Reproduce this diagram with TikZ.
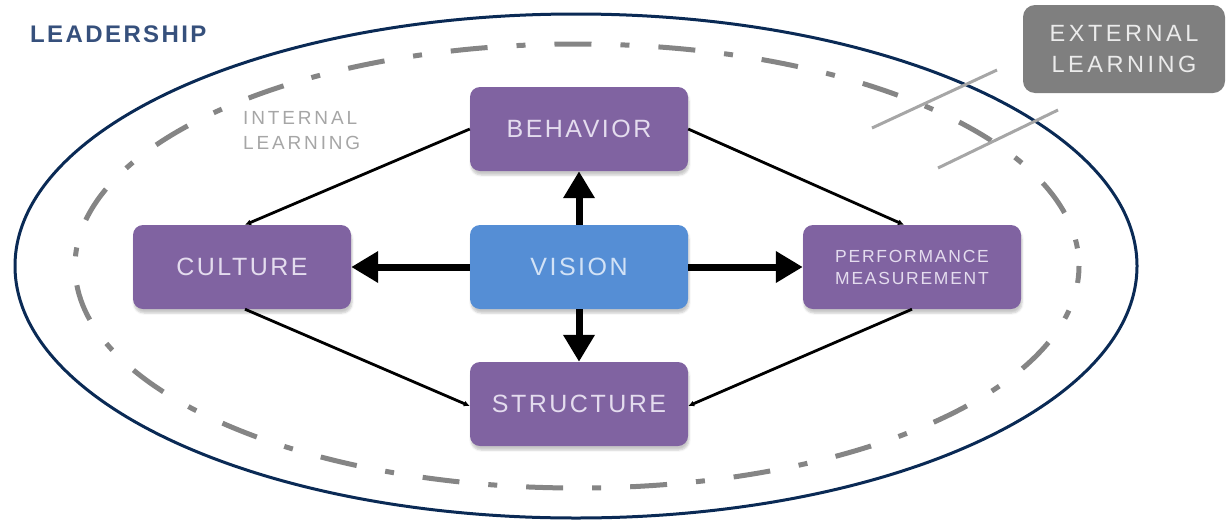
\documentclass[tikz,border=0pt]{standalone}
\usepackage{fontspec}
\setmainfont{Liberation Sans}
\newfontfamily\boxfont[LetterSpace=10]{Liberation Sans}
\newfontfamily\labfont[LetterSpace=15]{Liberation Sans}
\newfontfamily\leadfont[LetterSpace=10]{Liberation Sans}
\usetikzlibrary{arrows.meta,shadows.blur}
\definecolor{navy}{HTML}{0A2A55}
\definecolor{leadblue}{HTML}{36507C}
\definecolor{boxpurple}{HTML}{8063A1}
\definecolor{boxblue}{HTML}{558ED5}
\definecolor{purpletext}{HTML}{E4DCEE}
\definecolor{bluetext}{HTML}{D2E2F6}
\definecolor{dashgray}{HTML}{858585}
\definecolor{extgray}{HTML}{7F7F7F}
\tikzset{
  box/.style={rectangle, rounded corners=10pt, minimum width=218pt, minimum height=84pt,
    inner sep=0pt, align=center,
    blur shadow={shadow xshift=1pt, shadow yshift=-4pt, shadow blur steps=5, shadow opacity=22}},
  purplebox/.style={box, fill=boxpurple, text=purpletext, font=\boxfont\fontsize{25}{30}\selectfont},
  visionbox/.style={box, fill=boxblue, text=bluetext, font=\boxfont\fontsize{25}{30}\selectfont},
  bigarrow/.style={line width=7pt, -{Triangle[length=27pt,width=30pt]}},
  thinarrow/.style={line width=2.8pt, -{Latex[length=6pt,width=6pt]}},
  crossline/.style={line width=3pt, color=black!35},
}
\begin{document}
\begin{tikzpicture}[x=1pt, y=-1pt]
  \useasboundingbox (0,0) rectangle (1226,520);

  % organisation boundary and internal learning loop
  \draw[navy, line width=3pt] (576,266) ellipse [x radius=561, y radius=252];
  \draw[dashgray, line width=5pt, dash pattern=on 37pt off 29pt on 9pt off 29pt, dash phase=20pt]
    (577,266) ellipse [x radius=502, y radius=222];

  % labels
  \node[font=\leadfont\bfseries\fontsize{24}{28}\selectfont, text=leadblue, anchor=west, inner sep=0pt]
    (lead) at (30,34) {LEADERSHIP};
  \node[font=\labfont\fontsize{19}{25}\selectfont, text=black!35, align=left, anchor=west, inner sep=0pt]
    (intl) at (243,131) {INTERNAL\\LEARNING};

  % external learning crossing the boundary
  \coordinate (c1a) at (872,128);
  \coordinate (c1b) at (997,70);
  \coordinate (c2a) at (938,168);
  \coordinate (c2b) at (1058,110);
  \draw[crossline] (c1a) -- (c1b);
  \draw[crossline] (c2a) -- (c2b);
  \node[rectangle, rounded corners=12pt, fill=extgray, minimum width=202pt, minimum height=88pt,
    text=black!8, align=center, font=\labfont\fontsize{23.5}{31}\selectfont, inner sep=0pt]
    (ext) at (1124,49) {EXTERNAL\\LEARNING};

  % elements
  \node[purplebox] (beh) at (579,129) {BEHAVIOR};
  \node[visionbox] (vis) at (579,267) {VISION};
  \node[purplebox] (cul) at (242,267) {CULTURE};
  \node[purplebox, font=\boxfont\fontsize{17.5}{22}\selectfont] (perf) at (912,267) {PERFORMANCE\\MEASUREMENT};
  \node[purplebox] (str) at (579,404) {STRUCTURE};

  % vision drives every element
  \draw[bigarrow] (vis.west) -- (cul.east);
  \draw[bigarrow] (vis.east) -- (perf.west);
  \draw[bigarrow] (vis.north) -- (beh.south);
  \draw[bigarrow] (vis.south) -- (str.north);

  % loop between the elements
  \draw[thinarrow] (beh.west) -- ([xshift=3pt]cul.north);
  \draw[thinarrow] (beh.east) -- ([xshift=-8pt]perf.north);
  \draw[thinarrow] ([xshift=3pt]cul.south) -- ([yshift=-2pt]str.west);
  \draw[thinarrow] (perf.south) -- ([yshift=-2pt]str.east);
\end{tikzpicture}
\end{document}
